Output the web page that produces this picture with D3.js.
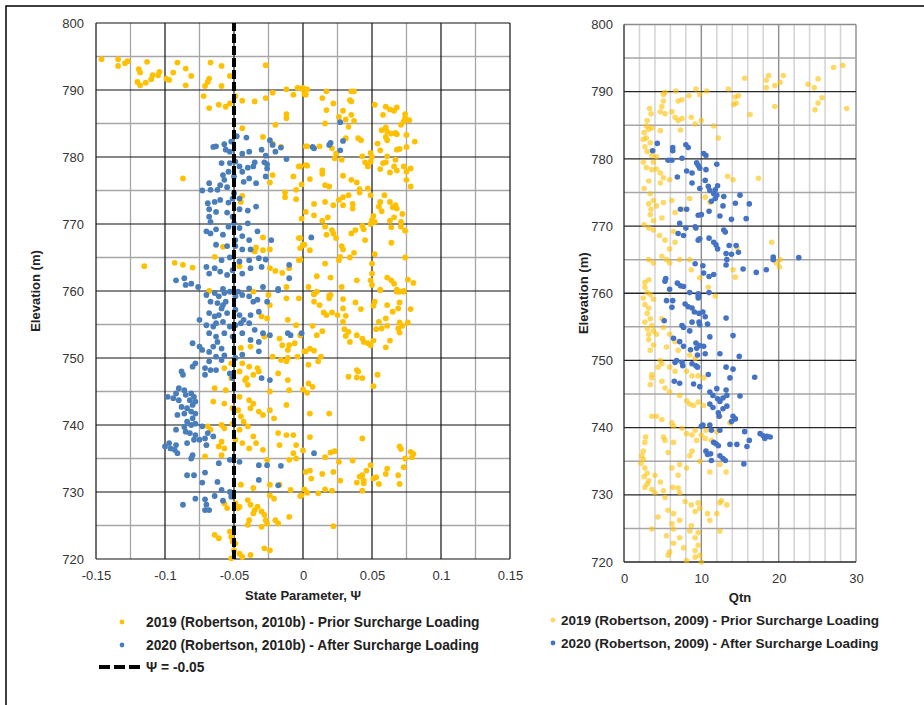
<!DOCTYPE html>
<html>
<head>
<meta charset="utf-8">
<script src="https://cdn.jsdelivr.net/npm/d3@7"></script>
<style>
    body { margin: 0; background: #fff; }
    svg { font-family: "Liberation Sans", Arial, sans-serif; }
    .tick text { fill: #333; font-size: 13px; }
    .title { font-weight: bold; font-size: 13px; fill: #222; }
    .legend { font-weight: bold; font-size: 13.8px; fill: #222; }
</style>
</head>
<body>
<script>
//wrap everything in a self-executing anonymous function
(function () {

//left chart data: [state parameter, elevation]
    var leftPrior = [
        [-0.146,794.6],[-0.134,794.6],[-0.134,793.6],[-0.129,794],[-0.127,794.3],[-0.113,794.2],[-0.119,793.1],[-0.118,792.6],[-0.12,791.2],[-0.118,790.7],
        [-0.114,791.1],[-0.11,791.6],[-0.109,792.2],[-0.105,792.2],[-0.104,792.7],[-0.099,791.7],[-0.097,791.5],[-0.094,792.6],[-0.091,794.1],[-0.085,793.2],
        [-0.081,792.1],[-0.085,790.7],[-0.071,790.6],[-0.069,791.2],[-0.068,791.7],[-0.067,794.1],[-0.059,793.6],[-0.059,790.6],[-0.053,792.1],[-0.027,793.7],
        [-0.072,789.1],[-0.068,787.3],[-0.061,787.8],[-0.056,787.5],[-0.053,788],[-0.049,789.1],[-0.044,788.4],[-0.035,788.3],[-0.027,788.8],[-0.022,789.6],
        [-0.012,790.1],[-0.007,789.3],[-0.004,790.3],[0,790.3],[0.001,789.4],[-0.012,786.4],[-0.012,785.8],[-0.02,784.8],[-0.044,784.3],[-0.029,783],
        [-0.022,782],[-0.016,781.5],[-0.003,778.6],[0.002,781.6],[0.002,778.8],[-0.007,777.1],[-0.022,777.3],[-0.024,776.2],[-0.001,775.9],[-0.005,775.1],
        [-0.013,774.7],[-0.013,774],[-0.005,773.7],[-0.087,776.8],[-0.044,774.2],[-0.045,773.3],[-0.001,770.8],[-0.029,768],[-0.024,766.2],[-0.029,766.1],
        [-0.034,766.5],[-0.035,765.9],[-0.003,767.9],[-0.002,766.4],[0.001,766.9],[-0.003,764.6],[-0.115,763.7],[-0.093,764.2],[-0.087,763.9],[-0.08,763.5],
        [-0.064,765.1],[-0.058,766.6],[-0.046,763.7],[-0.024,763.4],[-0.02,763],[-0.015,762.7],[-0.01,763.4],[-0.012,760.6],[-0.025,759.4],[-0.068,760],
        [-0.001,790.2],[0.003,790.1],[0.002,789.3],[0.017,789.8],[0.014,788.8],[0.022,788],[0.017,787],[0.029,786.9],[0.026,786],[0.031,785.6],
        [0.035,786.3],[0.037,785.4],[0.033,784.5],[0.016,785],[0.035,789.8],[0.037,789.8],[0.034,788.5],[0.035,788.3],[0.052,787.8],[0.06,787.5],
        [0.063,787.1],[0.066,786.9],[0.068,787.4],[0.058,786.3],[0.074,786.4],[0.074,785.8],[0.073,785.3],[0.077,785.5],[0.071,784.8],[0.057,784],
        [0.06,784.4],[0.061,783.8],[0.064,783.5],[0.067,783.6],[0.068,783.4],[0.06,783],[0.061,782.5],[0.075,783.3],[0.081,782.3],[0.075,781.5],
        [0.068,781.1],[0.07,781.2],[0.054,782],[0.056,781],[0.04,782.8],[0.042,782.5],[0.003,781.6],[0.012,781.6],[0.021,781.3],[0.024,780.5],
        [0.023,779.8],[0.028,779.6],[0.031,782.8],[0.043,780.1],[0.049,780.6],[0.05,780],[0.045,779.2],[0.049,779.3],[0.047,778.6],[0.056,778.2],
        [0.058,779.1],[0.06,779.2],[0.061,780.1],[0.067,779.6],[0.066,778.6],[0.068,778],[0.063,777.7],[0.073,778.6],[0.075,777.8],[0.078,778.3],
        [0.075,776.6],[0.078,775.6],[-0.002,778.6],[0.003,778.7],[0.005,776.7],[0.014,778],[0.014,777.5],[0.016,775.8],[0.019,775.6],[0.029,777.2],
        [0.035,776.6],[0.039,776.2],[0.041,775.2],[0.041,774.7],[0.047,775.3],[0.049,774.3],[0.029,774],[0.033,774.3],[0.029,772.8],[0.026,773.6],
        [0.022,772.8],[0.016,773.3],[0.008,773],[0.002,771.8],[0.008,771.3],[0.014,770.5],[0.018,771],[0.016,769.6],[0.017,768.4],[0.022,768.6],
        [0.024,767.9],[0.021,769.1],[0.036,773],[0.036,772.3],[0.035,768.6],[0.038,769.1],[0.043,769.7],[0.044,769.2],[0.05,770.6],[0.049,770],
        [0.052,770.3],[0.051,771.2],[0.055,772.6],[0.056,773.3],[0.057,771.9],[0.059,774.3],[0.063,773.3],[0.067,772.8],[0.065,772.5],[0.068,772.3],
        [0.072,771.5],[0.063,770.5],[0.064,769.5],[0.066,771],[0.071,770.3],[0.071,769.6],[0.074,769],[0.045,767.6],[0.064,767.2],[-0.002,767.9],
        [0,766.9],[-0.002,764.7],[0.005,766.1],[0.016,764.1],[0.028,766.7],[0.029,766.2],[0.037,765.7],[0.027,765.1],[0.026,764.6],[0.034,765],
        [0.052,765.5],[0.074,765],[0.05,764.1],[0.05,762.6],[0.049,761.6],[0.05,760.9],[0.056,760.2],[0.061,762],[0.064,761.6],[0.066,761.1],
        [0.068,760.2],[0.07,759.9],[0.073,760],[0.076,761.7],[0.08,761.2],[0.01,762.2],[0.02,762],[0.028,760.6],[0.039,761.6],[0.004,760.6],
        [0.008,759.5],[0.02,759.4],
        [-0.036,759.9],[-0.024,757.9],[-0.012,758.9],[-0.003,758.9],[-0.03,756.2],[-0.026,755.9],[-0.011,755.7],[-0.005,754.9],[-0.028,753.2],[-0.017,752.9],
        [-0.015,751.9],[-0.011,751.2],[-0.01,751.9],[-0.006,752.2],[0.001,751],[-0.004,750.2],[-0.022,750.2],[-0.016,749.7],[-0.012,749.5],[-0.011,750],
        [-0.038,751.7],[-0.045,751.5],[-0.044,749.2],[-0.039,748.7],[-0.033,748.5],[-0.032,748],[-0.036,747.5],[-0.041,747],[-0.04,746],[-0.042,746.7],
        [-0.052,749.2],[-0.057,748.5],[-0.046,748],[-0.052,747],[-0.018,747.7],[-0.011,746.7],[-0.024,745],[-0.01,745.2],[-0.064,745.5],[-0.056,745.2],
        [-0.046,744.2],[-0.039,743.7],[-0.036,743.2],[-0.038,742.5],[-0.032,742],[-0.029,741.5],[-0.024,742.2],[-0.065,743.5],[-0.057,743.2],[-0.051,742.5],
        [-0.047,742.2],[-0.045,741.3],[-0.043,740.5],[-0.04,739.8],[-0.046,739.3],[-0.051,740.2],[-0.057,739.5],[-0.059,740],[-0.069,739.8],[-0.067,739.3],
        [-0.021,741],[-0.012,743],[-0.018,738.8],[-0.012,738.5],[-0.007,738.5],[-0.005,737],[-0.007,735.8],[-0.005,735],[-0.01,734.8],[-0.017,737],
        [-0.036,738.3],[-0.034,737.3],[-0.029,736.3],[-0.026,734.8],[-0.039,736.5],[-0.049,737.8],[-0.059,737.5],[-0.061,736.8],[-0.057,736.5],[-0.059,735.5],
        [-0.07,737],[-0.071,735.3],[-0.044,737.3],[-0.045,731.1],[-0.036,730.6],[-0.024,731.1],[-0.017,731.1],[-0.009,730.3],[-0.001,729.5],[-0.057,728.3],
        [-0.055,727.6],[-0.049,728.3],[-0.047,727.6],[-0.046,727.8],[-0.04,728.8],[-0.038,728.1],[-0.035,727.3],[-0.033,727.8],[-0.03,727.1],[-0.028,726.6],
        [-0.027,725.8],[-0.036,726.8],[-0.039,725.8],[-0.04,725.1],[-0.03,724.8],[-0.026,725.3],[-0.02,725.8],[-0.018,725.3],[-0.01,726.3],[-0.024,729.5],
        [-0.021,729],[-0.064,723.6],[-0.061,723.1],[-0.053,724.1],[-0.052,723.3],[-0.051,722.6],[-0.049,722.3],[-0.05,721.3],[-0.046,720.8],[-0.044,720.3],
        [-0.052,720.1],[-0.038,720.6],[-0.028,721.6],[-0.024,721.3],
        [0.008,759.6],[0.01,759.9],[0.019,759.3],[0.019,758.9],[0.029,758.8],[0.008,758.4],[0.012,757.9],[0.015,756.8],[0.017,756.4],[0.021,756.8],
        [0.025,756.4],[0.029,757.4],[0.031,756.3],[0.029,755.4],[0.038,758.3],[0.042,757.3],[0.051,757.8],[0.052,758.4],[0.056,760.1],[0.061,757.9],
        [0.065,756.9],[0.069,757.4],[0.07,758.3],[0.068,759.9],[0.073,759.9],[0.078,757.3],[0.055,755.4],[0.06,755.9],[0.061,754.8],[0.07,755.3],
        [0.072,754.8],[0.076,755.3],[0.069,754.4],[0.07,753.8],[0.053,754.3],[0.057,754.4],[0.007,754.8],[0.03,754.3],[0.033,753.9],[0.031,753.3],
        [0.034,752.4],[0.039,753.4],[0.043,752.9],[0.044,752.4],[0.047,752.2],[0.049,751.9],[0.051,752.6],[0.063,752.6],[0.06,751.6],[0.014,754],
        [0.01,753.4],[-0.002,753.4],[0.005,751.4],[0.008,751.1],[0.002,751],[0.013,750.2],[0.011,749.5],[0.004,749],[0.033,747.2],[0.039,748.2],
        [0.04,748],[0.039,747.1],[0.043,747],[0.054,747.5],[0.051,745.8],[0.004,746.2],[0.007,745.7],[0,745.3],[0.003,744.8],[0.005,741.7],
        [0.019,741.7],[0.005,738.2],[0.043,738],[0,736.2],[0.016,735.2],[0.02,735.9],[0.023,736.1],[0.026,734.5],[0.036,734.7],[0.07,736.8],
        [0.071,736.4],[0.078,736],[0.08,735.7],[0.079,735.2],[0.074,735],[0.073,733.7],[0.049,734],[0.046,733.2],[0.043,732.5],[0.041,732.3],
        [0.039,731.4],[0.044,731.7],[0.044,731.3],[0.051,732],[0.053,732.2],[0.055,731.2],[0.06,732.7],[0.061,733.5],[0.069,732.5],[0.07,731.2],
        [0.043,730.2],[0.002,733],[0.005,733.2],[0.006,732],[0.014,732.7],[0.022,733],[0.027,731.7],[0.001,730.4],[0.003,729.9],[-0.002,729.4],
        [0.011,729.8],[0.016,730.4],[0.021,730.2],[0.022,724.9]
    ];

    var leftAfter = [
        [-0.048,783.1],[-0.041,782.9],[-0.052,782.3],[-0.065,781.5],[-0.063,781.6],[-0.057,781.9],[-0.056,781.1],[-0.053,780.8],[-0.044,780.5],[-0.039,780.8],
        [-0.03,781.1],[-0.024,782.5],[-0.022,781.8],[-0.016,781.4],[-0.02,780.8],[-0.012,779.7],[-0.027,780.2],[-0.028,779.2],[-0.026,778.9],[-0.035,779.2],
        [-0.036,778.6],[-0.04,778.4],[-0.044,777.8],[-0.046,778.6],[-0.049,779.3],[-0.053,779.1],[-0.059,779.1],[-0.054,777.8],[-0.05,777.1],[-0.058,777.3],
        [-0.057,776.6],[-0.06,775.8],[-0.068,776.1],[-0.073,775],[-0.067,775.1],[-0.062,775.1],[-0.055,775.5],[-0.05,774.6],[-0.051,773.8],[-0.046,773.8],
        [-0.043,776.3],[-0.039,776.8],[-0.034,776.1],[-0.026,778.3],[-0.027,777.1],[-0.069,773.1],[-0.064,773.3],[-0.06,773.6],[-0.054,773.2],[-0.068,772.2],
        [-0.063,771.8],[-0.055,771.7],[-0.051,771.1],[-0.046,772.2],[-0.04,772],[-0.034,772.6],[-0.068,771.1],[-0.067,770.3],[-0.07,768.9],[-0.067,768.6],
        [-0.063,769.2],[-0.058,768.4],[-0.054,769.6],[-0.05,770.1],[-0.046,769.4],[-0.04,770.1],[-0.044,768.2],[-0.049,767.6],[-0.039,767.6],[-0.033,768.9],
        [-0.038,766.2],[-0.044,766.2],[-0.049,766.7],[-0.055,766.7],[-0.063,766.9],[-0.059,764.6],[-0.053,765],[-0.046,764.4],[-0.039,764.6],[-0.032,764.9],
        [-0.027,764.7],[-0.023,767.6],[-0.07,763.6],[-0.064,763.4],[-0.068,762.6],[-0.06,762.9],[-0.055,762.4],[-0.051,763.1],[-0.044,762.6],[-0.038,763.4],
        [-0.03,763.6],[-0.01,763.9],[-0.01,761.9],[-0.018,760.3],[-0.029,760.6],[-0.039,760.4],[-0.047,759.9],[-0.058,760.3],[-0.092,761.6],[-0.086,761.9],
        [-0.085,760.9],[-0.081,761.1],[-0.076,760.6],
        [0.027,785.2],[0.007,781.5],[0.008,781.3],[0.019,781.8],[0.02,782.1],[0.029,782.4],[0.027,781],[0.006,768],
        [-0.07,759.4],[-0.064,759.7],[-0.061,759.2],[-0.057,759.7],[-0.053,759.9],[-0.067,758.4],[-0.062,758.2],[-0.058,757.9],[-0.059,757.4],[-0.056,758.4],
        [-0.049,759.2],[-0.044,759.4],[-0.039,759.2],[-0.036,758.4],[-0.033,758.7],[-0.026,758.4],[-0.018,760.1],[-0.068,756.7],[-0.064,756.2],[-0.061,756.4],
        [-0.055,756.7],[-0.049,757.2],[-0.046,756.4],[-0.043,755.7],[-0.038,756.4],[-0.032,756.9],[-0.075,755.7],[-0.07,754.9],[-0.065,754.7],[-0.063,755.2],
        [-0.058,755.4],[-0.053,754.7],[-0.049,754.9],[-0.045,755.2],[-0.039,755.2],[-0.035,754.2],[-0.029,753.7],[-0.024,753.4],[-0.011,753.7],[-0.009,753.4],
        [-0.001,753.7],[-0.068,753.7],[-0.063,753.2],[-0.057,753.7],[-0.051,753.2],[-0.044,753.7],[-0.038,752.7],[-0.032,752.4],[-0.08,752.2],[-0.075,751.7],
        [-0.073,751.2],[-0.068,750.9],[-0.065,751.7],[-0.062,752.4],[-0.059,751.4],[-0.057,750.4],[-0.063,750.2],[-0.059,749.7],[-0.068,749.5],[-0.071,748.5],
        [-0.067,748.2],[-0.063,748.2],[-0.078,749.2],[-0.08,748.7],[-0.088,748],[-0.087,747.5],[-0.071,747.5],[-0.053,747.7],[-0.051,747],[-0.044,750.5],
        [-0.049,750],[-0.032,751],[-0.024,746.7],[-0.03,747],[-0.09,745.5],[-0.086,745.2],[-0.092,744.7],[-0.098,744.2],[-0.094,744],[-0.09,743.7],
        [-0.085,744.5],[-0.081,744.7],[-0.079,744.2],[-0.082,743.7],[-0.078,743.5],[-0.08,743],[-0.084,742.5],[-0.088,742.7],[-0.091,741.5],[-0.086,741.7],
        [-0.081,742],[-0.078,741.7],[-0.08,741],[-0.084,740.5],[-0.086,739.7],[-0.081,740],[-0.078,740.2],[-0.085,739],[-0.082,738.8],[-0.078,738.5],
        [-0.073,739.8],[-0.069,738.8],[-0.065,738.3],[-0.092,739.3],[-0.071,738],[-0.075,737.8],[-0.079,737.8],[-0.084,737.3],[-0.092,737],[-0.097,737.3],
        [-0.1,736.8],[-0.096,736.5],[-0.093,736.3],[-0.091,735.8],[-0.08,735.5],[-0.081,735],[-0.07,737],[-0.061,734.3],[-0.053,734.8],[-0.046,734.5],
        [-0.032,734],[-0.026,734],[-0.016,733.9],[-0.084,732.5],[-0.079,732.5],[-0.071,732.9],[-0.073,731.4],[-0.062,731.5],[-0.059,730.3],[-0.053,730],
        [-0.051,729.7],[-0.052,729.3],[-0.078,729],[-0.071,728.9],[-0.07,728.1],[-0.068,727.3],[-0.071,727.3],[-0.064,729.4],[-0.058,728.7],[-0.087,728.1],
        [-0.032,731.8],[-0.018,731],[0.008,735.8]
    ];

    var psiLine = [[-0.05, 720], [-0.05, 800]];

//right chart data: [Qtn, elevation]
    var rightPrior = [
        [27.1,793.6],[28.3,793.9],[28.8,787.5],[25.1,791.9],[23.8,791.1],[24.6,790.6],[25.6,789.1],[25.1,788.3],[24.7,787.3],[20.6,792.4],
        [20.2,791.4],[19.5,790.9],[18.4,791.7],[18.7,792.4],[18.4,790.6],[19.5,787.8],[15.6,792],[16.3,786.6],[13.5,790.4],[14.4,789.2],
        [14.8,789.4],[14.5,788.3],[14.2,788.1],[12.2,783.1],[10.7,790.1],[9.8,789.6],[9.3,790.4],[8.4,789.4],[7.5,788.8],[7,788.6],
        [6.7,790.1],[5.3,789.9],[5.1,789.6],[5.1,788.6],[4.9,787.8],[4.7,787],[5.3,786.7],[6.2,787],[6.6,786.2],[7,785.7],
        [7.5,786],[8.7,786.2],[9.2,785.2],[10,785.7],[11.6,784.9],[7.3,784.3],[4.7,784.2],[3.3,787.5],[3.5,786.7],[3,785.7],
        [2.9,784.9],[3.2,784.4],[3.6,784.6],[2.6,783.9],[2.5,782.9],[2.9,783.1],[3.4,782.4],[2.7,781.8],[3,781.1],[3.6,780.5],
        [4.2,780.3],[3.8,779.5],[2.5,779.5],[2.9,778.7],[3.6,778.4],[4.2,778.5],[4.7,777.9],[5.1,777.2],[5.9,776.9],[4.7,776.4],
        [3.2,776.7],[2.6,775.6],[3.4,774.8],[3.8,773.8],[3.2,773.3],[3.5,772.5],[4.2,773],[5.1,773.5],[6.2,773.8],[4.9,771.2],
        [3.4,771.7],[3.8,770.8],[2.6,770.2],[3.2,769.7],[3.8,769.4],[4.6,768.6],[5.3,767.9],[6.4,769.2],[6.6,767.6],[5.9,766.6],
        [4.9,765.5],[3.8,764.5],[3.2,765],[5.5,765],[5.9,764.5],[7.2,765],[8.5,765],[8.7,763.5],[9.8,762.3],[10.9,760.9],
        [11.8,759.6],[14.1,763.5],[14.4,762.4],[14.6,766.8],[19.1,767.6],[19.7,764.5],[20.2,765],[20.1,763.9],[13.4,777.4],[14.1,776.9],
        [17.4,777.1],[11.1,773.5],[10.5,774.3],[7.7,772.5],[8.5,774.1],[6.6,772],[2.7,761.6],[3.2,762],[2.7,760.9],[3,760.1],
        [2.5,759.3],[3.4,759.8],[3.8,759.1],[2.7,758.3],[3.2,757.8],[3,757],[3.4,756.2],[2.7,755.7],[3.6,755.2],[3,754.7],
        [3.8,754.4],[4.2,753.9],[3.2,753.9],[3.2,753.1],[3.8,752.3],[3.4,751.5],[4.9,756.2],[5.1,754.9],[5.9,753.9],[6.6,752.8],
        [5.5,752],[7,751.5],[8.5,750.8],[9.2,750.3],[4.7,750],[4.9,749.5],[4.4,749],[5.9,749],[6.6,748.4],[8.1,748.4],
        [8.8,747.7],[9.6,747.7],[10.3,747.4],[3.6,747.9],[3.6,747.4],[3.4,746.4],[4.9,746.9],[5.3,745.9],[5.9,745.3],[7.2,744.8],
        [8.1,744],[8.5,743.5],[9,743.3],[9.6,743.8],[10.3,743.3],[3.6,741.7],[4.2,741.7],[4.9,741.2],[6.2,740.7],[6.4,740.2],
        [7.5,739.9],[8.1,739.1],[8.8,738.9],[9.4,738.1],[10,738.9],[10.6,739.6],[10.5,738.4],[13.7,740.7],[12.4,741.7],[2.8,738.6],
        [2.7,737.8],[2.5,736.5],[2.3,735.8],[2.5,735.3],[2.2,734.7],[2.7,734],[3,733.2],[2.6,732.7],[3.2,732.1],[3,731.6],
        [2.7,731.1],[3.6,730.8],[4,732.9],[4.7,731.9],[5.1,730.6],[4,730.3],[5.1,738.6],[5.3,738.1],[5.7,736.3],[6.4,737.8],
        [7.2,734.5],[6.2,734],[7,732.9],[8.1,734],[8.5,735.8],[9.2,739.6],[8.8,736.5],[9.8,735],[12,739.4],[11.1,733.4],
        [12.4,734.5],[13.2,733.4],[11.3,738.1],[5.3,729.6],[6.3,731.1],[7,731],[7.2,730.3],[8.7,728.5],[9.2,727.5],[9.6,728.8],
        [9.8,728],[10.8,727.2],[11.1,726.2],[12,727.2],[12.4,728.8],[13.3,728.5],[8.7,725.4],[8.5,724.6],[9.2,723.6],[9.6,724.4],
        [5.7,727.7],[6.4,727.2],[6.2,725.7],[6.4,724.9],[5.5,723.9],[7.2,726.2],[7.9,729],[4.4,726.7],[3.6,724.9],[6.4,722.8],
        [7.2,723.6],[7.7,722.1],[5.9,721.5],[5.7,721],[8.1,720.2],[9.2,720.7],[9.8,721],[10,720],[9.6,722.5],[9.2,721.7],
        [12.4,724.6],[12.6,729.1]
    ];

    var rightAfter = [
        [4.3,782.3],[3.7,781.2],[6.3,781.7],[6.3,781.2],[8,782.1],[8.3,781.7],[5.7,779.8],[6.2,779.8],[7.5,780.1],[10.3,780.8],
        [10.6,780.5],[9.4,779.4],[9.6,779],[9.8,778.6],[10.6,778.4],[12,779.2],[8.1,778.2],[8.8,777.9],[6.9,777.3],[8.8,776.4],
        [9.8,775.6],[10.5,776.8],[10.9,775.9],[11.1,775.3],[11.6,774.8],[11.8,775.4],[12.1,776],[12,774.6],[11.8,774.1],[11.3,773.7],
        [12.9,774.4],[12.8,773],[14.4,773.4],[15,774.6],[16.2,773.3],[15.8,771.1],[13.9,771],[12.4,771.5],[11,772.2],[10,771.7],
        [9.6,771.6],[8.1,772.5],[7.3,772.5],[7.2,770.4],[8,769.7],[7,768.9],[7.7,768.6],[9.2,769.9],[9.3,769.7],[9.8,768.1],
        [9.6,767.9],[11,768.2],[11.6,767.6],[11.9,767.2],[12.1,766.6],[12.9,769.4],[13.1,769.1],[13.6,767.1],[13.2,765.9],[13.9,765.8],
        [14.8,766.1],[14.5,767.1],[13.3,765],[13.2,764.2],[15.4,763.6],[17.1,763.1],[18.4,763.5],[19.3,765.4],[19.3,765],[22.6,765.3],
        [9.2,764.4],[10.2,764.1],[10.3,763],[11,762.5],[11.6,762.8],[5.4,762.2],[5.3,761.8],[6.9,761.5],[7.3,761.1],[7.7,761],
        [5.9,760.6],[8.5,760.1],[9.6,759.9],[9.6,759.6],[11,760.1],[9.6,759.3],[5.5,758.9],[6.3,758.9],[6.2,757.9],[7.9,758.4],
        [8.3,758],[8.8,757.8],[9.1,757.2],[9.7,757],[10.2,757.2],[10.5,756.5],[10.8,755.4],[13.2,756.3],[5.2,755.9],[7.5,755.2],
        [7.7,754.9],[8.5,754.4],[8.8,755.7],[9.7,755.7],[9.8,755.3],[6.4,753.3],[7.2,752.8],[7.7,752.1],[8.6,751.6],[9.3,752.6],
        [9.4,751.8],[9.8,752.2],[10.3,752.1],[10.5,751],[9.5,750.8],[11.1,753.5],[12.4,751],[14.1,753.7],[14.9,750.6],[6.6,749.7],
        [6.8,750],[7.5,749.7],[7.6,749.2],[8.8,749.5],[9.3,749.2],[9.5,749],[10.9,747.9],[13.2,749],[14.1,748.7],[13.7,747.4],
        [16.9,747.5],[6.5,746.9],[7.2,746.6],[9,746.5],[9.8,746.1],[11.1,745.3],[11.5,744.8],[12,745.8],[12.1,744.3],[12.4,743.9],
        [12.8,744.4],[13.2,745.6],[13.3,744.8],[11.1,743.5],[11.5,743],[12.2,742.2],[12.3,741.7],[12.8,742.8],[13.3,743.2],[14.1,741.7],
        [14.4,741.3],[13.9,740.9],[15,744.7],[10,740.2],[10.2,740.4],[11.1,740.4],[11.3,739.6],[12.4,739.6],[15.6,739.4],[16.2,738.1],
        [17.6,739.1],[18,738.8],[18.2,738.4],[18.5,738.7],[18.9,738.6],[14.6,737.5],[15.9,737.2],[11.6,737.8],[11.9,737.6],[12.2,737.3],
        [13.7,737.5],[10.6,736.5],[10.8,736],[11.2,736.1],[12.4,735.8],[12.8,735.4],[13.1,735.1],[11.3,735.1],[15.5,734.6]
    ];

//tick values
    var leftXTicks = [-0.15, -0.1, -0.05, 0, 0.05, 0.1, 0.15];
    var rightXTicks = [0, 10, 20, 30];
    var elevTicks = [720, 730, 740, 750, 760, 770, 780, 790, 800];

//legend labels
    var leftLegend = ["2019 (Robertson, 2010b) - Prior Surcharge Loading",
        "2020 (Robertson, 2010b) - After Surcharge Loading",
        "\u03A8 = -0.05"];
    var rightLegend = ["2019 (Robertson, 2009) - Prior Surcharge Loading",
        "2020 (Robertson, 2009) - After Surcharge Loading"];

    var yellow = "#FFC000",
        blueL = "#4a7ebb",
        blueR = "#4472c4";

    var width = 924,
        height = 705;

    var svg = d3.select("body")
        .append("svg")
        .attr("width", width)
        .attr("height", height);

    //outer frame
    svg.append("rect")
        .attr("x", 6)
        .attr("y", 6)
        .attr("width", 940)
        .attr("height", 720)
        .attr("fill", "none")
        .attr("stroke", "#000")
        .attr("stroke-width", 1.5);

    setLeftChart();
    setRightChart();

    function fmt(d) {
        return String(+d.toFixed(3));
    }

//state parameter chart
    function setLeftChart() {
        var x = d3.scaleLinear().domain([-0.15, 0.15]).range([96, 510]),
            y = d3.scaleLinear().domain([720, 800]).range([559, 23]);

        var g = svg.append("g").attr("class", "left");

        //minor gridlines
        g.selectAll(".vminor")
            .data(d3.range(-0.125, 0.15, 0.05))
            .enter()
            .append("line")
            .attr("x1", function (d) { return x(d); })
            .attr("x2", function (d) { return x(d); })
            .attr("y1", y(720)).attr("y2", y(800))
            .attr("stroke", "#a6a6a6").attr("stroke-width", 1.3);

        g.selectAll(".hminor")
            .data(d3.range(725, 800, 10))
            .enter()
            .append("line")
            .attr("y1", function (d) { return y(d); })
            .attr("y2", function (d) { return y(d); })
            .attr("x1", x(-0.15)).attr("x2", x(0.15))
            .attr("stroke", "#a6a6a6").attr("stroke-width", 1.3);

        //major gridlines
        g.selectAll(".vmajor")
            .data(leftXTicks)
            .enter()
            .append("line")
            .attr("x1", function (d) { return x(d); })
            .attr("x2", function (d) { return x(d); })
            .attr("y1", y(720)).attr("y2", y(800))
            .attr("stroke", "#111").attr("stroke-width", 1.2);

        g.selectAll(".hmajor")
            .data(elevTicks)
            .enter()
            .append("line")
            .attr("y1", function (d) { return y(d); })
            .attr("y2", function (d) { return y(d); })
            .attr("x1", x(-0.15)).attr("x2", x(0.15))
            .attr("stroke", "#111").attr("stroke-width", 1.2);

        //points
        g.selectAll(".prior")
            .data(leftPrior)
            .enter()
            .append("circle")
            .attr("cx", function (d) { return x(d[0]); })
            .attr("cy", function (d) { return y(d[1]); })
            .attr("r", 2.9)
            .attr("fill", yellow);

        g.selectAll(".after")
            .data(leftAfter)
            .enter()
            .append("circle")
            .attr("cx", function (d) { return x(d[0]); })
            .attr("cy", function (d) { return y(d[1]); })
            .attr("r", 2.9)
            .attr("fill", blueL);

        //psi = -0.05 line
        var line = d3.line()
            .x(function (d) { return x(d[0]); })
            .y(function (d) { return y(d[1]); });

        g.append("path")
            .datum(psiLine)
            .attr("d", line)
            .attr("fill", "none")
            .attr("stroke", "#000")
            .attr("stroke-width", 4)
            .attr("stroke-dasharray", "9,3");

        //axes (labels only)
        g.append("g")
            .attr("transform", "translate(0," + y(720) + ")")
            .call(d3.axisBottom(x).tickValues(leftXTicks).tickFormat(fmt).tickSize(0).tickPadding(12))
            .call(function (a) { a.select(".domain").remove(); });

        g.append("g")
            .attr("transform", "translate(" + x(-0.15) + ",0)")
            .call(d3.axisLeft(y).tickValues(elevTicks).tickSize(0).tickPadding(12))
            .call(function (a) { a.select(".domain").remove(); });

        g.append("text")
            .attr("class", "title")
            .attr("x", (x(-0.15) + x(0.15)) / 2)
            .attr("y", 600)
            .attr("text-anchor", "middle")
            .text("State Parameter, \u03A8");

        g.append("text")
            .attr("class", "title")
            .attr("transform", "translate(40," + (y(760)) + ") rotate(-90)")
            .attr("text-anchor", "middle")
            .text("Elevation (m)");

        //legend
        var rows = [622, 645, 667];
        g.append("circle").attr("cx", 122).attr("cy", rows[0]).attr("r", 2.4).attr("fill", yellow);
        g.append("circle").attr("cx", 122).attr("cy", rows[1]).attr("r", 2.4).attr("fill", blueL);
        g.append("line")
            .attr("x1", 99).attr("x2", 141)
            .attr("y1", rows[2]).attr("y2", rows[2])
            .attr("stroke", "#000").attr("stroke-width", 4)
            .attr("stroke-dasharray", "11,4");

        g.selectAll(".legend")
            .data(leftLegend)
            .enter()
            .append("text")
            .attr("class", "legend")
            .attr("x", 146)
            .attr("y", function (d, i) { return rows[i]; })
            .attr("dy", "0.35em")
            .text(function (d) { return d; });
    }

//Qtn chart
    function setRightChart() {
        var x = d3.scaleLinear().domain([0, 30]).range([624, 856]),
            y = d3.scaleLinear().domain([720, 800]).range([562, 24.5]);

        var g = svg.append("g").attr("class", "right");

        //vertical gridlines every 2
        g.selectAll(".vminor")
            .data(d3.range(2, 30, 2).filter(function (d) { return d % 10 !== 0; }))
            .enter()
            .append("line")
            .attr("x1", function (d) { return x(d); })
            .attr("x2", function (d) { return x(d); })
            .attr("y1", y(720)).attr("y2", y(800))
            .attr("stroke", "#d6d6d6").attr("stroke-width", 1.6);

        g.selectAll(".vmajor")
            .data([10, 20, 30])
            .enter()
            .append("line")
            .attr("x1", function (d) { return x(d); })
            .attr("x2", function (d) { return x(d); })
            .attr("y1", y(720)).attr("y2", y(800))
            .attr("stroke", "#8c8c8c").attr("stroke-width", 1.4);

        g.selectAll(".hminor")
            .data(d3.range(725, 800, 10))
            .enter()
            .append("line")
            .attr("y1", function (d) { return y(d); })
            .attr("y2", function (d) { return y(d); })
            .attr("x1", x(0)).attr("x2", x(30))
            .attr("stroke", "#a6a6a6").attr("stroke-width", 1.5);

        g.selectAll(".hmajor")
            .data(elevTicks)
            .enter()
            .append("line")
            .attr("y1", function (d) { return y(d); })
            .attr("y2", function (d) { return y(d); })
            .attr("x1", x(0)).attr("x2", x(30))
            .attr("stroke", function (d) { return d === 800 ? "#8c8c8c" : "#262626"; })
            .attr("stroke-width", 1.3);

        g.append("line")
            .attr("x1", x(0)).attr("x2", x(0))
            .attr("y1", y(720)).attr("y2", y(800))
            .attr("stroke", "#262626").attr("stroke-width", 1.3);

        //points
        g.selectAll(".prior")
            .data(rightPrior)
            .enter()
            .append("circle")
            .attr("cx", function (d) { return x(d[0]); })
            .attr("cy", function (d) { return y(d[1]); })
            .attr("r", 2.8)
            .attr("fill", yellow)
            .attr("fill-opacity", 0.6);

        g.selectAll(".after")
            .data(rightAfter)
            .enter()
            .append("circle")
            .attr("cx", function (d) { return x(d[0]); })
            .attr("cy", function (d) { return y(d[1]); })
            .attr("r", 2.8)
            .attr("fill", blueR);

        //axes (labels only)
        g.append("g")
            .attr("transform", "translate(0," + y(720) + ")")
            .call(d3.axisBottom(x).tickValues(rightXTicks).tickSize(0).tickPadding(12))
            .call(function (a) { a.select(".domain").remove(); });

        g.append("g")
            .attr("transform", "translate(" + x(0) + ",0)")
            .call(d3.axisLeft(y).tickValues(elevTicks).tickSize(0).tickPadding(11))
            .call(function (a) { a.select(".domain").remove(); });

        g.append("text")
            .attr("class", "title")
            .attr("x", (x(0) + x(30)) / 2)
            .attr("y", 602)
            .attr("text-anchor", "middle")
            .text("Qtn");

        g.append("text")
            .attr("class", "title")
            .attr("transform", "translate(588," + (y(760)) + ") rotate(-90)")
            .attr("text-anchor", "middle")
            .text("Elevation (m)");

        //legend
        var rows = [620, 643];
        g.append("circle").attr("cx", 553).attr("cy", rows[0]).attr("r", 2.4)
            .attr("fill", yellow).attr("fill-opacity", 0.6);
        g.append("circle").attr("cx", 553).attr("cy", rows[1]).attr("r", 2.4).attr("fill", blueR);

        g.selectAll(".legend")
            .data(rightLegend)
            .enter()
            .append("text")
            .attr("class", "legend")
            .attr("x", 561)
            .attr("y", function (d, i) { return rows[i]; })
            .attr("dy", "0.35em")
            .style("font-size", "13.5px")
            .text(function (d) { return d; });
    }

})();
</script>
</body>
</html>
